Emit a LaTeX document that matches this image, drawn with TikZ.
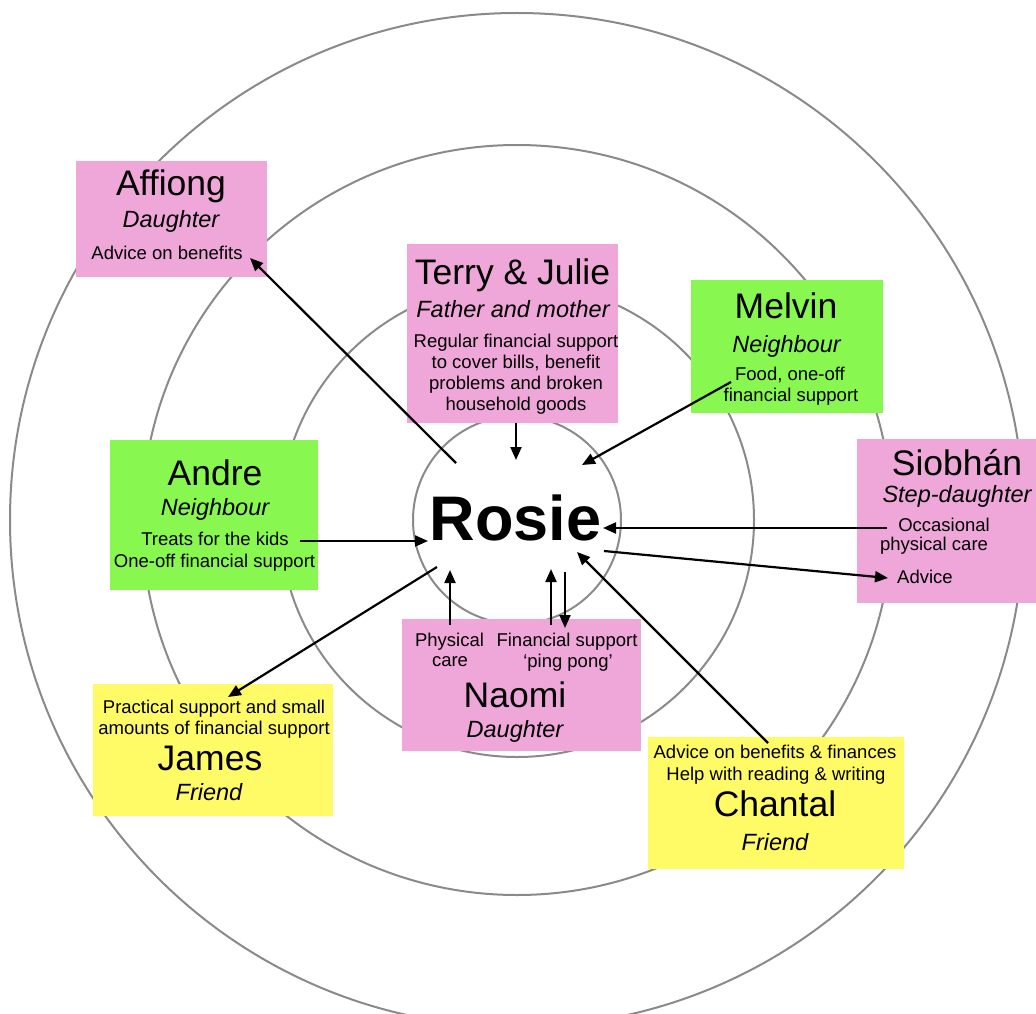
\documentclass[tikz,border=0pt]{standalone}
\usepackage{fontspec}
\setmainfont{Liberation Sans}
\usetikzlibrary{arrows.meta}
\definecolor{kinpink}{HTML}{EFA6D8}
\definecolor{kingreen}{HTML}{88F74F}
\definecolor{kinyellow}{HTML}{FFFB66}
\definecolor{ringgray}{HTML}{8A8A8A}
\begin{document}
\begin{tikzpicture}[x=1pt,y=-1pt,
  ring/.style={draw=ringgray,line width=2pt},
  card/.style={inner sep=0pt,outer sep=0pt,anchor=north west},
  pinkcard/.style={card,fill=kinpink},
  greencard/.style={card,fill=kingreen},
  yellowcard/.style={card,fill=kinyellow},
  who/.style={anchor=base,inner sep=0pt,font=\fontsize{35.5}{40}\selectfont},
  role/.style={anchor=base,inner sep=0pt,font=\fontsize{23.5}{27}\selectfont\itshape},
  info/.style={anchor=base,inner sep=0pt,font=\fontsize{18.5}{21}\selectfont},
  flow/.style={line width=2.2pt,-{Triangle[length=13pt,width=11pt]}}]
\useasboundingbox (0,0) rectangle (1036,1014);
\clip (0,0) rectangle (1036,1014);
\fill[white] (0,0) rectangle (1036,1014);

% concentric rings
\coordinate (hub) at (517,520);
\draw[ring] (hub) circle[radius=507];
\draw[ring] (hub) circle[radius=375];
\draw[ring] (hub) circle[radius=237];
\draw[ring] (hub) circle[radius=104];

% centre
\node[anchor=base,inner sep=0pt,font=\fontsize{63}{70}\selectfont\bfseries] (rosie) at (515.5,540) {Rosie};

% Affiong
\node[pinkcard,minimum width=191pt,minimum height=116pt] (affiong) at (76,161) {};
\node[who] (affiongN) at (171,195) {Affiong};
\node[role] (affiongR) at (171,227) {Daughter};
\node[info] (affiongI) at (167,259) {Advice on benefits};

% Terry & Julie
\node[pinkcard,minimum width=211pt,minimum height=179pt] (terry) at (407,244) {};
\node[who] (terryN) at (512.5,284) {Terry \& Julie};
\node[role] (terryR) at (513,317) {Father and mother};
\node[info] (terryI1) at (516,347) {Regular financial support};
\node[info] (terryI2) at (516,368) {to cover bills, benefit};
\node[info] (terryI3) at (516,389) {problems and broken};
\node[info] (terryI4) at (516,410) {household goods};

% Melvin
\node[greencard,minimum width=192pt,minimum height=133pt] (melvin) at (691,280) {};
\node[who] (melvinN) at (786,318) {Melvin};
\node[role] (melvinR) at (786.5,352) {Neighbour};
\node[info] (melvinI1) at (790,380) {Food, one-off};
\node[info] (melvinI2) at (791,401) {financial support};

% Andre
\node[greencard,minimum width=208pt,minimum height=150pt] (andre) at (110,440) {};
\node[who] (andreN) at (215,485) {Andre};
\node[role] (andreR) at (215,515) {Neighbour};
\node[info] (andreI1) at (215,545) {Treats for the kids};
\node[info] (andreI2) at (214.5,567) {One-off financial support};

% Siobhan
\node[pinkcard,minimum width=200pt,minimum height=164pt] (siobhan) at (857,439) {};
\node[who] (siobhanN) at (957,475) {Siobhán};
\node[role] (siobhanR) at (957,502) {Step-daughter};
\node[info] (siobhanI1) at (944,531) {Occasional};
\node[info] (siobhanI2) at (934,550) {physical care};
\node[info,anchor=base west] (siobhanI3) at (897,583) {Advice};

% Naomi
\node[pinkcard,minimum width=239pt,minimum height=132pt] (naomi) at (402,619) {};
\node[info] (naomiP1) at (449.5,646) {Physical};
\node[info] (naomiP2) at (450,666) {care};
\node[info] (naomiF1) at (567,646) {Financial support};
\node[info] (naomiF2) at (568,667) {`ping pong'};
\node[who] (naomiN) at (515,707) {Naomi};
\node[role] (naomiR) at (515,737) {Daughter};

% James
\node[yellowcard,minimum width=240pt,minimum height=132pt] (james) at (93,684) {};
\node[info] (jamesI1) at (214,713) {Practical support and small};
\node[info] (jamesI2) at (214,734) {amounts of financial support};
\node[who] (jamesN) at (210,770) {James};
\node[role] (jamesR) at (209,800) {Friend};

% Chantal
\node[yellowcard,minimum width=256pt,minimum height=132pt] (chantal) at (648,737) {};
\node[info] (chantalI1) at (775,758) {Advice on benefits \& finances};
\node[info] (chantalI2) at (776,780) {Help with reading \& writing};
\node[who] (chantalN) at (775,816) {Chantal};
\node[role] (chantalR) at (775,850) {Friend};

% connector end points
\coordinate (affA) at (456,463);  \coordinate (affB) at (250,258);
\coordinate (terA) at (516,423);  \coordinate (terB) at (516,460);
\coordinate (melA) at (731,382);  \coordinate (melB) at (582,465);
\coordinate (andA) at (300,541);  \coordinate (andB) at (428,541);
\coordinate (sioA) at (887,528);  \coordinate (sioB) at (603,528);
\coordinate (advA) at (604,551);  \coordinate (advB) at (888,578);
\coordinate (jamA) at (437,567);  \coordinate (jamB) at (228,697);
\coordinate (chaA) at (768,743);  \coordinate (chaB) at (577,552);
\coordinate (phyA) at (450,625);  \coordinate (phyB) at (450,570);
\coordinate (finA) at (551,625);  \coordinate (finB) at (551,569);
\coordinate (finC) at (565,572);  \coordinate (finD) at (565,628);

% support flows
\draw[flow] (affA) -- (affB);
\draw[flow] (terA) -- (terB);
\draw[flow] (melA) -- (melB);
\draw[flow] (andA) -- (andB);
\draw[flow] (sioA) -- (sioB);
\draw[flow] (advA) -- (advB);
\draw[flow] (jamA) -- (jamB);
\draw[flow] (chaA) -- (chaB);
\draw[flow] (phyA) -- (phyB);
\draw[flow] (finA) -- (finB);
\draw[flow] (finC) -- (finD);
\end{tikzpicture}
\end{document}
